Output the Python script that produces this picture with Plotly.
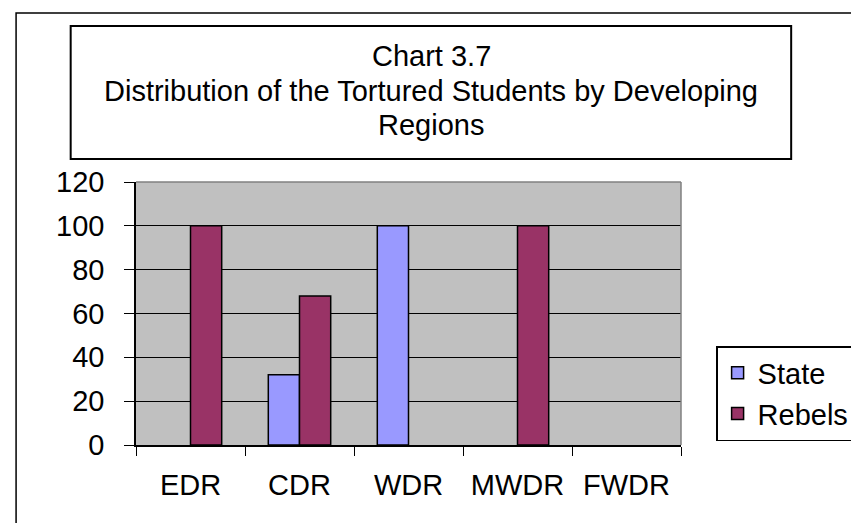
import plotly.graph_objects as go

categories = ["EDR", "CDR", "WDR", "MWDR", "FWDR"]
state = [None, 32, 100, None, None]
rebels = [100, 68, None, 100, None]
series_names = ["State", "Rebels"]
y_ticks = [0, 20, 40, 60, 80, 100, 120]
title_lines = ["Chart 3.7", "Distribution of the Tortured Students by Developing", "Regions"]

W, H = 859, 523
L, R, T, B = 128, 687, 174, 437
FONT = "Liberation Sans, Arial, sans-serif"


def px(x):
    return (x - L) / (R - L)


def py(y):
    return (B - y) / (B - T)


fig = go.Figure()
fig.add_trace(go.Bar(x=categories, y=state, name=series_names[0],
                     marker=dict(color="#9999FF", line=dict(color="black", width=1.5)),
                     legendgroup="a"))
fig.add_trace(go.Bar(x=categories, y=rebels, name=series_names[1],
                     marker=dict(color="#993366", line=dict(color="black", width=1.5)),
                     legendgroup="b"))

shapes = [
    # outer chart border
    dict(type="rect", xref="paper", yref="paper", x0=px(5), x1=px(900), y0=py(600), y1=py(5),
         line=dict(color="black", width=1.5), layer="below"),
    # title box
    dict(type="rect", xref="paper", yref="paper", x0=px(61), x1=px(800), y0=py(151), y1=py(18),
         line=dict(color="black", width=2)),
    # plot area border (top and right)
    dict(type="line", xref="paper", yref="paper", x0=0, x1=1, y0=1, y1=1,
         line=dict(color="#808080", width=1.5)),
    dict(type="line", xref="paper", yref="paper", x0=1, x1=1, y0=0, y1=1,
         line=dict(color="#808080", width=1.5)),
]

title_y = [47, 82, 116]
annotations = [dict(text=t, xref="paper", yref="paper", x=px(431), y=py(yc + 1),
                    xanchor="center", yanchor="middle", showarrow=False,
                    font=dict(family=FONT, size=29, color="black"))
               for t, yc in zip(title_lines, title_y)]

fig.update_layout(
    width=W, height=H, autosize=False,
    margin=dict(l=L, r=W - R, t=T, b=H - B, pad=0),
    paper_bgcolor="white", plot_bgcolor="#C0C0C0",
    font=dict(family=FONT, size=29, color="black"),
    barmode="group", bargap=0.4275, bargroupgap=0,
    shapes=shapes,
    annotations=annotations,
    legend=dict(x=px(723), y=py(338), xanchor="left", yanchor="top",
                bordercolor="black", borderwidth=1.5, bgcolor="white",
                font=dict(family=FONT, size=29), tracegroupgap=7,
                traceorder="normal"),
    showlegend=True,
)
fig.update_xaxes(type="category", range=[-0.5, 4.5], showline=True, linecolor="black", linewidth=1.5,
                 ticks="outside", tickson="boundaries", ticklen=9, tickcolor="black", tickwidth=1,
                 showgrid=False, tickfont=dict(size=29), ticklabelstandoff=13)
fig.update_yaxes(range=[0, 120], tickvals=y_ticks, showline=True, linecolor="black", linewidth=1.5,
                 ticks="outside", ticklen=10, tickcolor="black", tickwidth=1,
                 showgrid=True, gridcolor="black", gridwidth=1, zeroline=False,
                 tickfont=dict(size=29), ticklabelstandoff=14)

fig.write_html("out.html")
